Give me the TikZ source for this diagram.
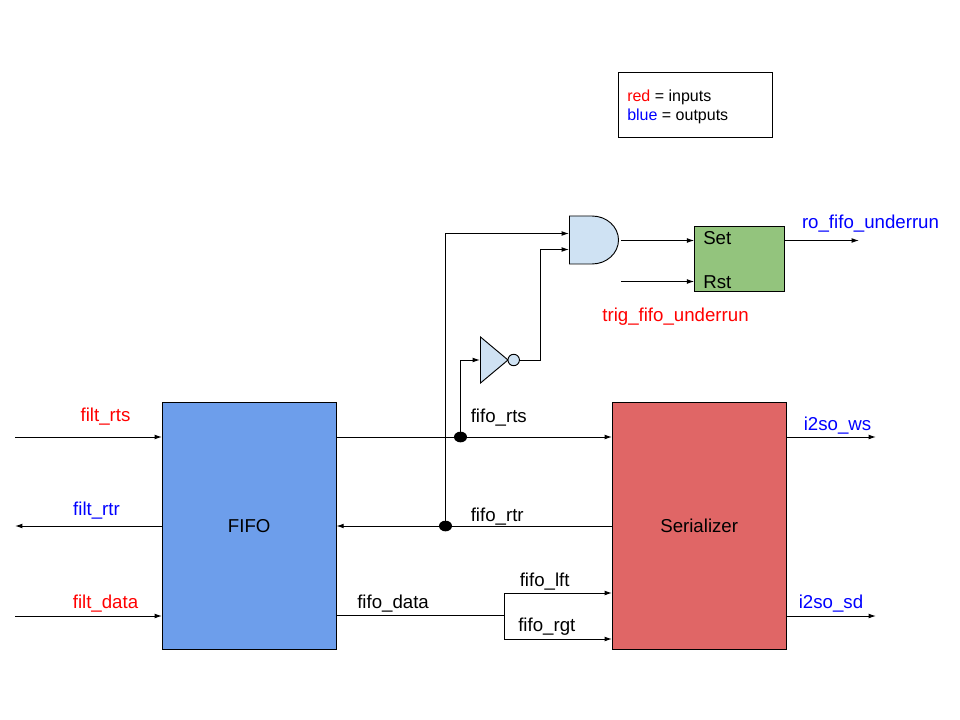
\documentclass[tikz,border=0pt]{standalone}
\usepackage{fontspec}
\setmainfont{Liberation Sans}
\usetikzlibrary{arrows.meta,positioning,shapes.geometric}
\definecolor{fifoblue}{HTML}{6D9EEB}
\definecolor{serred}{HTML}{E06666}
\definecolor{ffgreen}{HTML}{93C47D}
\definecolor{gateblue}{HTML}{CFE2F3}
\definecolor{inred}{HTML}{FF0000}
\definecolor{outblue}{HTML}{0000FF}
\tikzset{
  blockbox/.style={draw=black,line width=0.6pt,anchor=north west,inner sep=0pt,font=\fontsize{14}{16}\selectfont},
  wire/.style={draw=black,line width=0.75pt},
  arrowwire/.style={wire,-{Latex[length=5.5pt,width=3.6pt]}},
  lab/.style={font=\fontsize{14}{16}\selectfont,inner sep=0pt,text=black},
  inlab/.style={lab,text=inred},
  outlab/.style={lab,text=outblue},
  gateshape/.style={draw=black,line width=0.7pt,fill=gateblue},
  dot/.style={ellipse,fill=black,inner sep=0pt,minimum width=9.8pt,minimum height=8pt}
}
\begin{document}
\begin{tikzpicture}[x=0.75pt,y=-0.75pt]
\useasboundingbox (0,0) rectangle (960,720);
% blocks
\node[blockbox,fill=fifoblue,minimum width=130.2pt,minimum height=185.25pt] (fifo) at (162,402) {\raisebox{-0.8pt}{FIFO}};
\node[blockbox,fill=serred,minimum width=130.2pt,minimum height=185.25pt] (ser) at (612,402) {\raisebox{-0.8pt}{Serializer}};
\node[blockbox,fill=ffgreen,minimum width=67.6pt,minimum height=48.75pt] (ff) at (694.3,226) {};
\node[blockbox,fill=white,minimum width=115.5pt,minimum height=48.75pt] (legend) at (618,72) {};
\node[lab,anchor=west] (settext) at (703,238) {Set};
\node[lab,anchor=west] (rsttext) at (703,282) {Rst};
\node[lab,anchor=west,font=\fontsize{12}{14}\selectfont] (leg1) at (627,97) {\textcolor{inred}{red} = inputs};
\node[lab,anchor=west,font=\fontsize{12}{14}\selectfont] (leg2) at (627,116) {\textcolor{outblue}{blue} = outputs};
% gates
\draw[gateshape] (569.5,216) -- (592,216) arc[start angle=90,end angle=-90,x radius=26.5,y radius=-24] -- (569.5,264) -- cycle;
\draw[gateshape] (480.5,337) -- (508,360) -- (480.5,383) -- cycle;
\node[circle,gateshape,minimum size=8.6pt,inner sep=0pt] (bub) at (513.7,360) {};
% free coordinates
\coordinate (andA) at (569,233.5);
\coordinate (andB) at (569,249.5);
\coordinate (andO) at (621,240.5);
\coordinate (notI) at (480,360);
\coordinate (lin1) at (15,437);
\coordinate (lout) at (15,526);
\coordinate (lin2) at (15,616);
\coordinate (rst) at (621,281.5);
\coordinate (setin) at (694.3,240.5);
\coordinate (rstin) at (694.3,281.5);
\coordinate (uo) at (859,240.5);
\coordinate (wso) at (876,437);
\coordinate (sdo) at (876,616);
\coordinate (split) at (504,615.5);
% wires
\draw[arrowwire] (lin1) -- (lin1 -| fifo.west);
\draw[arrowwire] (lout -| fifo.west) -- (lout);
\draw[arrowwire] (lin2) -- (lin2 -| fifo.west);
\draw[arrowwire] (lin1 -| fifo.east) -- (lin1 -| ser.west);
\draw[arrowwire] (lout -| ser.west) -- (lout -| fifo.east);
\node[dot] (j1) at (460.5,437) {};
\node[dot] (j2) at (445.5,526) {};
\draw[arrowwire] (j2.center) -- (445.5,233.5) -- (andA);
\draw[arrowwire] (j1.center) -- (460.5,360) -- (notI);
\draw[arrowwire] (bub.east) -- (540.5,360) -- (540.5,249.5) -- (andB);
\draw[arrowwire] (andO) -- (setin);
\draw[arrowwire] (rst) -- (rstin);
\draw[arrowwire] (uo -| ff.east) -- (uo);
\draw[arrowwire] (wso -| ser.east) -- (wso);
\draw[arrowwire] (sdo -| ser.east) -- (sdo);
\draw[wire] (split -| fifo.east) -- (split);
\draw[arrowwire] (split) -- (504,593) -- (612,593);
\draw[arrowwire] (split) -- (504,639) -- (612,639);
% labels
\node[inlab] (t1) at (105.5,416.5) {filt\_rts};
\node[outlab] (t2) at (96.5,510.5) {filt\_rtr};
\node[inlab] (t3) at (105.5,603.5) {filt\_data};
\node[lab,anchor=west] (t4) at (470.5,417.5) {fifo\_rts};
\node[lab,anchor=west] (t5) at (470.5,516.5) {fifo\_rtr};
\node[lab,anchor=west] (t6) at (357,603.5) {fifo\_data};
\node[lab,anchor=west] (t7) at (519.5,581.5) {fifo\_lft};
\node[lab,anchor=west] (t8) at (518,626.5) {fifo\_rgt};
\node[outlab] (t9) at (837.5,425.5) {i2so\_ws};
\node[outlab] (t10) at (831,604) {i2so\_sd};
\node[outlab] (t11) at (870.5,224) {ro\_fifo\_underrun};
\node[inlab] (t12) at (675.5,317) {trig\_fifo\_underrun};
\end{tikzpicture}
\end{document}
